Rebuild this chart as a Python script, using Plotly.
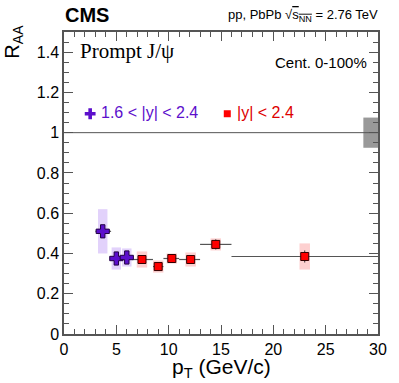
import plotly.graph_objects as go

# 1.6 < |y| < 2.4
fwd_pt = [3.7, 5.0, 6.0]
fwd_lo = [3.0, 4.5, 5.5]
fwd_hi = [4.5, 5.5, 6.5]
fwd_raa = [0.51, 0.375, 0.38]
fwd_stat = [0.03, 0.025, 0.025]
fwd_syst = [0.11, 0.055, 0.045]

# |y| < 2.4
mid_pt = [7.45, 9.0, 10.3, 12.1, 14.5, 23.0]
mid_lo = [6.5, 8.5, 9.5, 11.0, 13.0, 16.0]
mid_hi = [8.5, 9.5, 11.0, 13.0, 16.0, 30.0]
mid_raa = [0.37, 0.335, 0.375, 0.37, 0.445, 0.385]
mid_stat = [0.02, 0.015, 0.02, 0.02, 0.025, 0.03]
mid_syst = [0.04, 0.03, 0.025, 0.035, 0.03, 0.065]

glob_unc = 0.075

purple = "#5c0fcc"
red = "#ff0000"
font = "Liberation Sans"

fig = go.Figure()

shapes = []
for pt, r, s in zip(fwd_pt, fwd_raa, fwd_syst):
    shapes.append(dict(type="rect", xref="x", yref="y", x0=pt - 0.45, x1=pt + 0.45,
                       y0=r - s, y1=r + s, fillcolor="#e2d2fb", line_width=0, layer="below"))
for pt, r, s in zip(mid_pt, mid_raa, mid_syst):
    shapes.append(dict(type="rect", xref="x", yref="y", x0=pt - 0.5, x1=pt + 0.5,
                       y0=r - s, y1=r + s, fillcolor="#fdd0d0", line_width=0, layer="below"))
shapes.append(dict(type="rect", xref="x", yref="y", x0=28.6, x1=30, y0=1 - glob_unc,
                   y1=1 + glob_unc, fillcolor="#999999", line_width=0, layer="below"))
shapes.append(dict(type="line", xref="x", yref="y", x0=0, x1=30, y0=1, y1=1,
                   line=dict(color="#555555", width=1)))

fig.add_trace(go.Scatter(
    x=mid_pt, y=mid_raa, mode="markers",
    marker=dict(symbol="square", size=8, color=red, line=dict(color="#330000", width=1)),
    error_x=dict(type="data", symmetric=False,
                 array=[h - p for h, p in zip(mid_hi, mid_pt)],
                 arrayminus=[p - l for p, l in zip(mid_pt, mid_lo)],
                 color="#555555", thickness=1.2, width=0),
    error_y=dict(type="data", array=mid_stat, color="#333333", thickness=1, width=0),
))
fig.add_trace(go.Scatter(
    x=fwd_pt, y=fwd_raa, mode="markers",
    marker=dict(symbol="cross", size=11, color=purple, line=dict(color="#220044", width=1)),
    error_x=dict(type="data", symmetric=False,
                 array=[h - p for h, p in zip(fwd_hi, fwd_pt)],
                 arrayminus=[p - l for p, l in zip(fwd_pt, fwd_lo)],
                 color="#555555", thickness=1.2, width=0),
    error_y=dict(type="data", array=fwd_stat, color="#333333", thickness=1, width=0),
))

# legend markers
fig.add_trace(go.Scatter(x=[2.5], y=[1.094], mode="markers", cliponaxis=False,
                         marker=dict(symbol="cross", size=9, color=purple)))
fig.add_trace(go.Scatter(x=[15.6], y=[1.094], mode="markers", cliponaxis=False,
                         marker=dict(symbol="square", size=7, color=red)))

axis_common = dict(showline=True, linecolor="#555555", linewidth=1.5, mirror="ticks",
                   ticks="inside", tickcolor="#555555", ticklen=9, showgrid=False,
                   zeroline=False, tickfont=dict(family=font, size=16, color="black"))

fig.update_xaxes(range=[0, 30], tick0=0, dtick=5,
                 minor=dict(dtick=1, ticks="inside", ticklen=5, tickcolor="#555555"),
                 **axis_common)
fig.update_yaxes(range=[0, 1.5], tick0=0, dtick=0.2, tickformat="~g",
                 minor=dict(dtick=0.05, ticks="inside", ticklen=5, tickcolor="#555555"),
                 **axis_common)

annotations = [
    dict(text="<b>CMS</b>", x=63, y=383 - 15, font=dict(size=20)),
    dict(text="pp, PbPb √<span style='text-decoration:overline'>s<sub>NN</sub></span> = 2.76 TeV",
         x=384, y=383 - 15, xanchor="right", font=dict(size=13)),
    dict(text="Prompt J/ψ", x=78, y=383 - 51, font=dict(family="Liberation Serif", size=21)),
    dict(text="Cent. 0-100%", x=373, y=383 - 63, xanchor="right", font=dict(size=15)),
    dict(text="1.6 < |y| < 2.4", x=99, y=383 - 112, font=dict(size=16, color=purple)),
    dict(text="|y| < 2.4", x=237, y=383 - 112, font=dict(size=16, color="#dd0000")),
    dict(text="R<sub>AA</sub>", x=13, y=383 - 42, xanchor="center", textangle=-90,
         font=dict(size=20)),
    dict(text="p<sub>T</sub> (GeV/c)", x=223, y=383 - 368, xanchor="center", font=dict(size=21)),
]
for a in annotations:
    a.setdefault("xanchor", "left")
    a.update(xref="paper", yref="paper", showarrow=False, yanchor="middle")
    a["x"] = (a["x"] - 64) / (382 - 64)
    a["y"] = (a["y"] - 49) / (383 - 32 - 49)
    a["font"].setdefault("family", font)
    a["font"].setdefault("color", "black")

fig.update_layout(width=399, height=383, margin=dict(l=64, r=17, t=32, b=49),
                  plot_bgcolor="white", paper_bgcolor="white", showlegend=False,
                  shapes=shapes, annotations=annotations)

fig.write_html("out.html", config={"displayModeBar": False},
               post_script="document.body.style.margin='0';")
